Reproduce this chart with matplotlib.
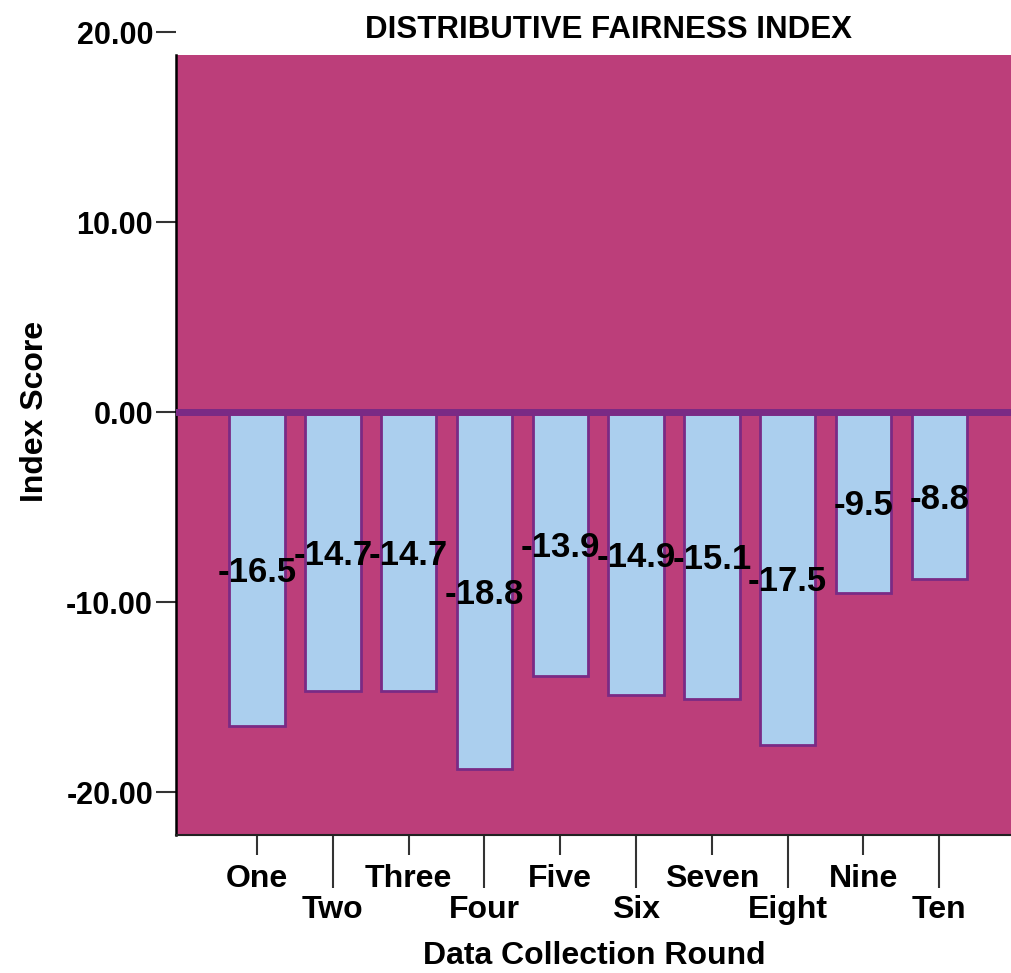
import numpy as np
import matplotlib.pyplot as plt

rounds = ['One', 'Two', 'Three', 'Four', 'Five', 'Six', 'Seven', 'Eight', 'Nine', 'Ten']
scores = [-16.5, -14.7, -14.7, -18.8, -13.9, -14.9, -15.1, -17.5, -9.5, -8.8]
yticks = [-20, -10, 0, 10, 20]

plt.rcParams['font.family'] = ['Liberation Sans', 'DejaVu Sans']
plt.rcParams['font.weight'] = 'bold'

bg = '#bc3e7a'
bar_fill = '#abcfee'
purple = '#7a2a85'

fig = plt.figure(figsize=(10.12, 9.73), dpi=100)
ax = fig.add_axes([0.1739, 0.1418, 0.8261, 0.8253])
ax.set_facecolor('white')

y_low, y_top = -22.26, 18.8
ax.axhspan(y_low, y_top, color=bg, zorder=0, lw=0)

X = np.arange(len(rounds))
ax.bar(X, scores, width=0.73, color=bar_fill, edgecolor=purple, linewidth=2, zorder=2)
ax.axhline(0, color=purple, linewidth=5, zorder=3)

for x, v in zip(X, scores):
    ax.text(x, v / 2, f'{v:.1f}', ha='center', va='center_baseline', fontsize=25,
            fontweight='bold', color='black', zorder=4)

ax.set_xlim(-1.07, 9.96)
ax.set_ylim(y_low, 20)

for s in ['top', 'right']:
    ax.spines[s].set_visible(False)
ax.spines['left'].set_bounds(y_low, y_top)
ax.spines['left'].set_linewidth(1.8)
ax.spines['bottom'].set_linewidth(1.5)
ax.spines['bottom'].set_color('#222222')

ax.set_yticks(yticks)
ax.set_yticklabels([f'{t:.2f}' for t in yticks])
ax.tick_params(axis='y', length=14.5, width=1.5, color='#333333', pad=2, labelsize=22)

# staggered category labels: odd rounds on short ticks, even rounds on long ticks
ax.set_xticks(X[0::2])
ax.set_xticklabels(rounds[0::2])
ax.set_xticks(X[1::2], minor=True)
ax.set_xticklabels(rounds[1::2], minor=True)
ax.tick_params(axis='x', which='major', length=14.5, width=1.5, color='#333333', pad=6.5, labelsize=23)
ax.tick_params(axis='x', which='minor', length=38, width=1.5, color='#333333', pad=5.5, labelsize=23)

ax.set_ylabel('Index Score', fontsize=23, fontweight='bold')
ax.yaxis.set_label_coords(-0.151, 0.527)
ax.set_xlabel('Data Collection Round', fontsize=23, fontweight='bold', labelpad=11)
ax.set_title('DISTRIBUTIVE FAIRNESS INDEX', fontsize=22.5, fontweight='bold', x=0.517, y=1.0, pad=-4)

plt.savefig('out.png', dpi=100)
